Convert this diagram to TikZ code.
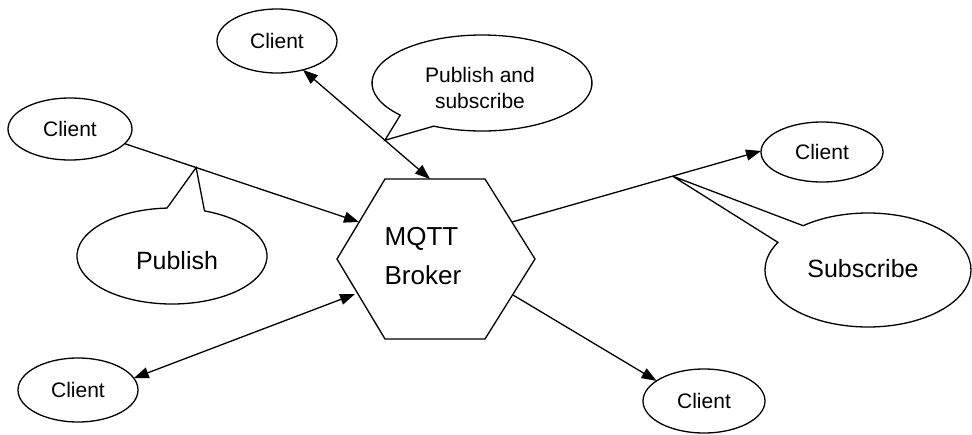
\documentclass[tikz,border=0pt]{standalone}
\usepackage{fontspec}
\setmainfont{Liberation Sans}
\usetikzlibrary{arrows.meta,shapes.geometric,calc}
\begin{document}
\begin{tikzpicture}[x=1pt,y=1pt,yscale=-1,line width=1.3pt,
  >={Triangle[length=15pt,width=11pt]},
  client/.style={ellipse,draw,inner sep=0pt,outer sep=0pt,font=\fontsize{21}{25}\selectfont},
  bubbletext/.style={inner sep=0pt,align=center},
  bubble/.style={draw,line join=miter}]
\useasboundingbox (0,0) rectangle (972,434);

% clients
\node[client,minimum width=120pt,minimum height=64pt] (c1) at (277,41) {Client};
\node[client,minimum width=124pt,minimum height=62pt] (c2) at (70,129) {Client};
\node[client,minimum width=120pt,minimum height=64pt] (c3) at (78,390) {Client};
\node[client,minimum width=122pt,minimum height=64pt] (c4) at (704,401) {Client};
\node[client,minimum width=122pt,minimum height=60pt] (c5) at (822,152) {Client};

% broker hexagon
\coordinate (h1) at (385,179);
\coordinate (h2) at (485,179);
\coordinate (h3) at (535,259);
\coordinate (h4) at (485,339);
\coordinate (h5) at (385,339);
\coordinate (h6) at (337,259);
\draw[line join=miter] (h1) -- (h2) -- (h3) -- (h4) -- (h5) -- (h6) -- cycle;
\node[anchor=west,align=left,inner sep=0pt,font=\fontsize{26}{39}\selectfont] (broker) at (384,256) {MQTT\\Broker};

% points on the hexagon border
\coordinate (hA) at (359,222);
\coordinate (hT) at (430,179);
\coordinate (hB) at (355,294);
\coordinate (hC) at (512,222);
\coordinate (hD) at (513,295);

% connectors
\draw[->] (c2.-15) -- (hA);
\draw[<->] (c1.-48) -- (hT);
\draw[<->] (c3.12) -- (hB);
\draw[->] (hD) -- (c4.157);
\draw[->] (hC) -- (c5.179);

% callout tips on the connectors
\coordinate (t1) at ($(c2.-15)!0.305!(hA)$);
\coordinate (t2) at ($(c1.-48)!0.645!(hT)$);
\coordinate (t3) at ($(hC)!0.645!(c5.179)$);

% callouts
\draw[bubble] (172,256) ++(-70:95 and 48) arc[start angle=-70,end angle=267,x radius=95,y radius=48] -- (t1) -- cycle;
\node[bubbletext,font=\fontsize{25}{30}\selectfont] (pub) at (177,261) {Publish};

\draw[bubble] (482,83) ++(138:110 and 48) arc[start angle=138,end angle=476,x radius=110,y radius=48] -- (t2) -- cycle;
\node[bubbletext,font=\fontsize{21}{26}\selectfont] (pas) at (480,88) {Publish and\\subscribe};

\draw[bubble] (868,270) ++(231:103 and 57) arc[start angle=231,end angle=569,x radius=103,y radius=57] -- (t3) -- cycle;
\node[bubbletext,font=\fontsize{25}{30}\selectfont] (sub) at (863,269) {Subscribe};
\end{tikzpicture}
\end{document}
